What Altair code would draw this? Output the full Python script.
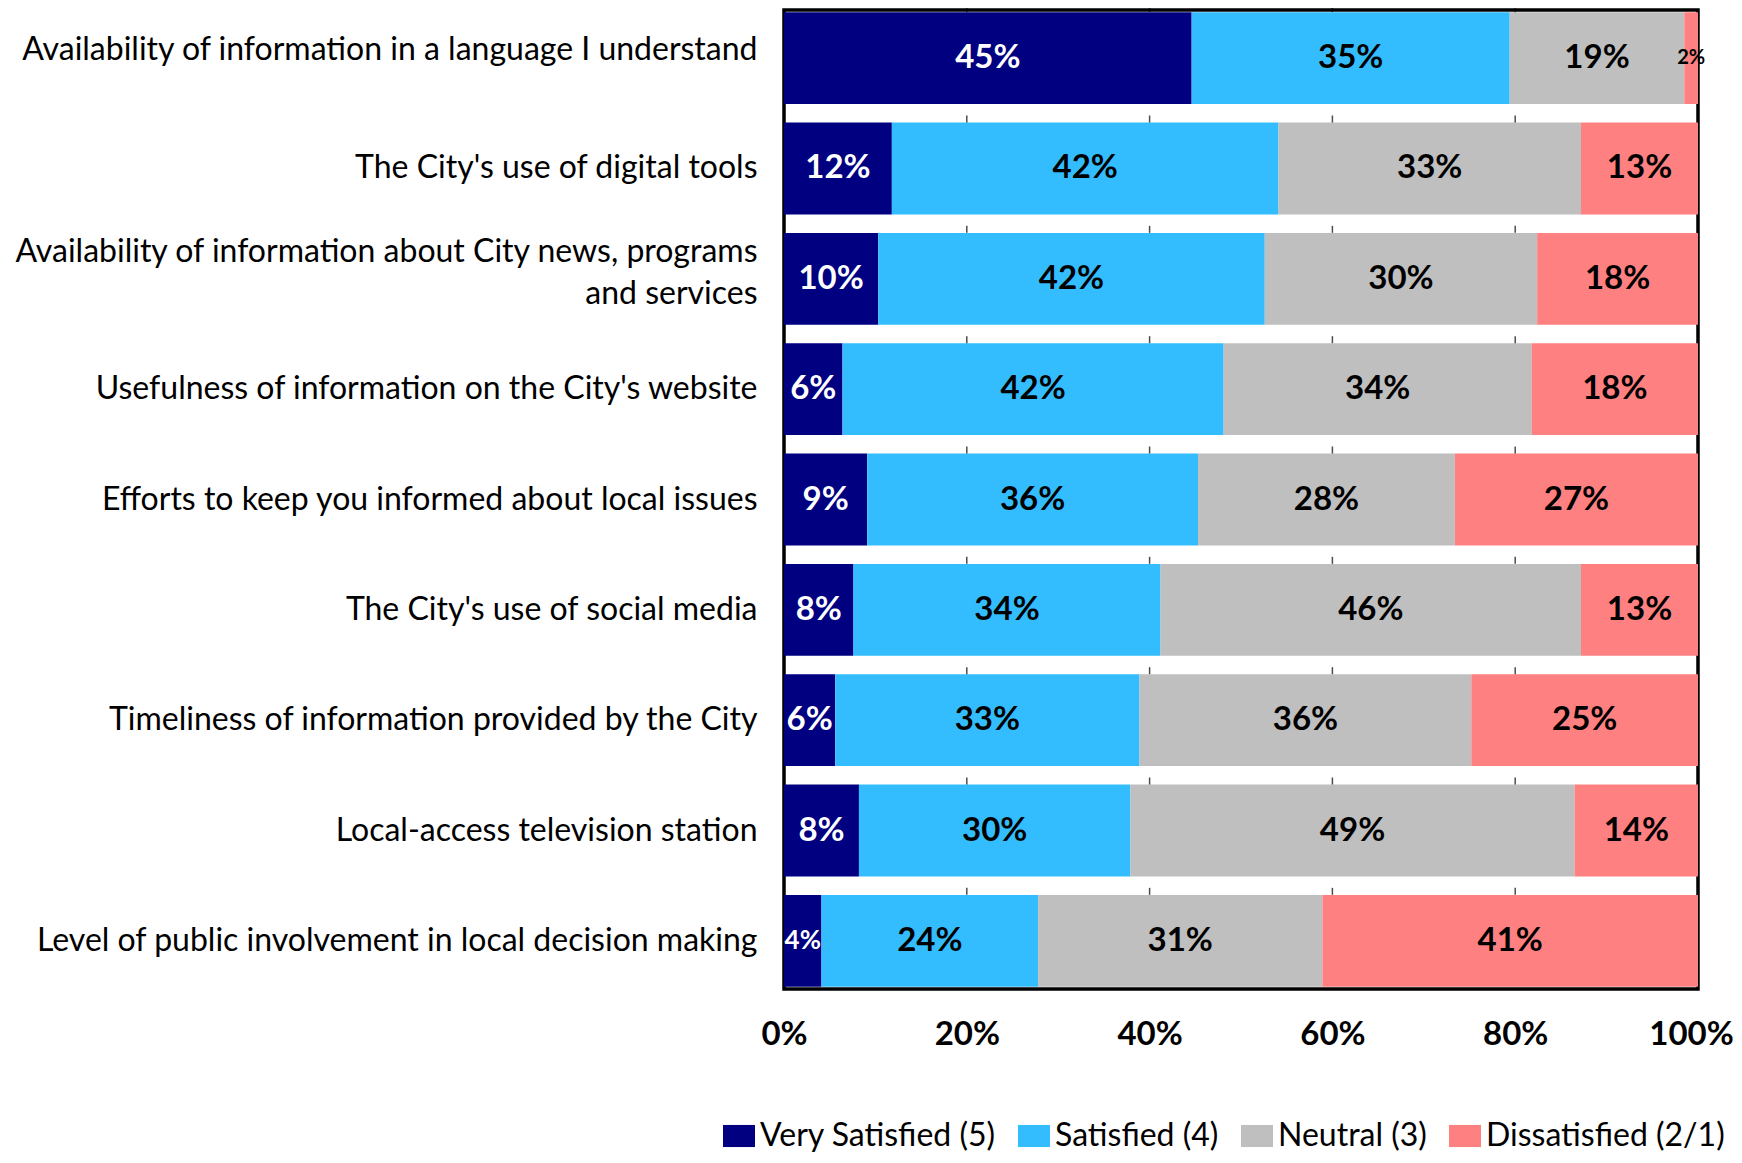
import altair as alt
import pandas as pd

items = [
    "Availability of information in a language I understand",
    "The City's use of digital tools",
    "Availability of information about City news, programs\nand services",
    "Usefulness of information on the City's website",
    "Efforts to keep you informed about local issues",
    "The City's use of social media",
    "Timeliness of information provided by the City",
    "Local-access television station",
    "Level of public involvement in local decision making",
]
levels = ["Very Satisfied (5)", "Satisfied (4)", "Neutral (3)", "Dissatisfied (2/1)"]
colors = ["#000080", "#33BDFF", "#BFBFBF", "#FF8080"]

very_satisfied = [44.6, 11.8, 10.3, 6.4, 9.1, 7.6, 5.6, 8.2, 4.1]
satisfied = [34.8, 42.3, 42.3, 41.7, 36.2, 33.6, 33.3, 29.7, 23.7]
neutral = [19.1, 33.1, 29.8, 33.7, 28.1, 46.0, 36.3, 48.6, 31.1]
dissatisfied = [1.5, 12.8, 17.6, 18.2, 26.6, 12.8, 24.8, 13.5, 41.1]

grid_values = [20, 40, 60, 80]
x_ticks = [0, 20, 40, 60, 80, 100]

series = [very_satisfied, satisfied, neutral, dissatisfied]
rows = []
for r, (lvl, vals) in enumerate(zip(levels, series)):
    for it, v in zip(items, vals):
        rows.append({"item": it, "level": lvl, "rank": r, "pct": v})
df = pd.DataFrame(rows)

grid_df = pd.DataFrame([{"item": it, "g": g} for it in items for g in grid_values])

FONT = "Lato"

y_enc = alt.Y(
    "item:N",
    sort=items,
    scale=alt.Scale(paddingInner=0.167, paddingOuter=0.02),
    axis=alt.Axis(
        title=None, ticks=False, domain=False, labelFont=FONT, labelFontSize=32,
        labelColor="black", labelPadding=27, labelLimit=1000,
        labelExpr="split(datum.label, '\\n')", labelLineHeight=42,
        labelOffset={
            "condition": [
                {"test": "indexof(datum.value, 'language') >= 0", "value": -8},
                {"test": "indexof(datum.value, 'City news') >= 0", "value": -27},
            ],
            "value": 0,
        },
    ),
)

base = alt.Chart(df).transform_stack(
    stack="pct", groupby=["item"], sort=[alt.SortField("rank")], as_=["x0", "x1"]
).transform_calculate(
    mid="(datum.x0 + datum.x1) / 2",
    fs="datum.pct < 3 ? 20 : (datum.pct < 5 ? 26 : 33)",
    lab="format(datum.pct, '.0f') + '%'",
)

bars = base.mark_bar(strokeWidth=0).encode(
    x=alt.X(
        "x0:Q",
        scale=alt.Scale(domain=[0, 100], nice=False),
        axis=alt.Axis(
            values=x_ticks, labelExpr="datum.value + '%'", labelFont=FONT,
            labelFontWeight="bold", labelFontSize=33, labelColor="black",
            labelPadding=29, ticks=False, domain=False, grid=False, title=None,
            labelFlush=False, labelOverlap=False,
            labelOffset={"condition": {"test": "datum.value == 100", "value": -7}, "value": 0},
        ),
    ),
    x2="x1:Q",
    y=y_enc,
    color=alt.Color(
        "level:N",
        scale=alt.Scale(domain=levels, range=colors),
        legend=alt.Legend(
            title=None, orient="none", legendX=-61, legendY=1110,
            direction="horizontal", symbolType="M-1,-0.69H1V0.69H-1Z",
            symbolSize=1024, symbolStrokeWidth=0, symbolOpacity=1,
            labelFont=FONT, labelFontSize=32, labelColor="black",
            labelOffset=5, columnPadding=22, padding=0, labelLimit=500,
        ),
    ),
)

ticks = alt.Chart(grid_df).mark_tick(
    orient="vertical", size=7, thickness=1.5, color="black", yOffset=-49.5
).encode(
    x=alt.X("g:Q"),
    y=alt.Y("item:N", sort=items),
)

texts = base.mark_text(font=FONT, fontWeight="bold", baseline="middle", align="center").encode(
    x=alt.X("mid:Q"),
    y=alt.Y("item:N", sort=items),
    text="lab:N",
    size=alt.Size("fs:Q", scale=None, legend=None),
    color=alt.condition(alt.datum.level == levels[0], alt.value("white"), alt.value("black")),
)

chart = alt.layer(bars, ticks, texts).properties(
    width=914,
    height=979,
    autosize=alt.AutoSizeParams(type="none"),
    padding={"left": 776, "top": 2, "right": 36, "bottom": 166},
).configure_view(stroke="black", strokeWidth=3.5)

chart.save("out.html", embed_options={"renderer": "svg", "actions": False})
